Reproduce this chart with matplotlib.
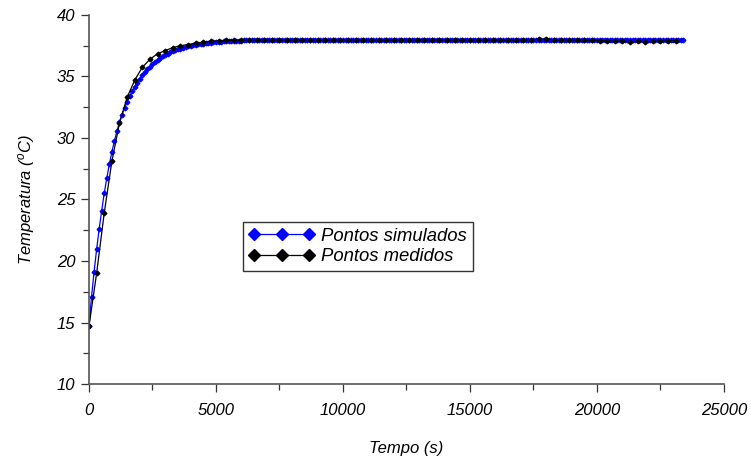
import matplotlib

matplotlib.use("Agg")
import matplotlib.pyplot as plt
import numpy as np
from matplotlib.ticker import MultipleLocator

# Simulated points, one every 100 s
sim_time = np.arange(0, 23500, 100)
sim_temp = [
    14.7, 17.1, 19.1, 20.95, 22.6, 24.1, 25.5, 26.75, 27.85, 28.85,
    29.75, 30.55, 31.3, 31.9, 32.45, 32.95, 33.4, 33.8, 34.15, 34.5,
    34.8, 35.1, 35.35, 35.6, 35.8, 36.0, 36.18, 36.35, 36.5, 36.63,
    36.75, 36.86, 36.96, 37.05, 37.13, 37.2, 37.27, 37.33, 37.39, 37.44,
    37.49, 37.53, 37.57, 37.61, 37.64, 37.67, 37.7, 37.73, 37.75, 37.77,
    37.79, 37.81, 37.83, 37.85, 37.86, 37.87, 37.88, 37.89, 37.9, 37.91,
    37.92, 37.93, 37.94, 37.95, 37.95, 37.96, 37.96, 37.97, 37.97, 37.98,
    37.98, 37.99, 37.99, 37.99, 37.99, 37.99, 38.0, 38.0, 38.0, 38.0,
    38.0, 38.0, 38.0, 38.0, 38.0, 38.0, 38.0, 38.0, 38.0, 38.0,
    38.0, 38.0, 38.0, 38.0, 38.0, 38.0, 38.0, 38.0, 38.0, 38.0,
    38.0, 38.0, 38.0, 38.0, 38.0, 38.0, 38.0, 38.0, 38.0, 38.0,
    38.0, 38.0, 38.0, 38.0, 38.0, 38.0, 38.0, 38.0, 38.0, 38.0,
    38.0, 38.0, 38.0, 38.0, 38.0, 38.0, 38.0, 38.0, 38.0, 38.0,
    38.0, 38.0, 38.0, 38.0, 38.0, 38.0, 38.0, 38.0, 38.0, 38.0,
    38.0, 38.0, 38.0, 38.0, 38.0, 38.0, 38.0, 38.0, 38.0, 38.0,
    38.0, 38.0, 38.0, 38.0, 38.0, 38.0, 38.0, 38.0, 38.0, 38.0,
    38.0, 38.0, 38.0, 38.0, 38.0, 38.0, 38.0, 38.0, 38.0, 38.0,
    38.0, 38.0, 38.0, 38.0, 38.0, 38.0, 38.0, 38.0, 38.0, 38.0,
    38.0, 38.0, 38.0, 38.0, 38.0, 38.0, 38.0, 38.0, 38.0, 38.0,
    38.0, 38.0, 38.0, 38.0, 38.0, 38.0, 38.0, 38.0, 38.0, 38.0,
    38.0, 38.0, 38.0, 38.0, 38.0, 38.0, 38.0, 38.0, 38.0, 38.0,
    38.0, 38.0, 38.0, 38.0, 38.0, 38.0, 38.0, 38.0, 38.0, 38.0,
    38.0, 38.0, 38.0, 38.0, 38.0, 38.0, 38.0, 38.0, 38.0, 38.0,
    38.0, 38.0, 38.0, 38.0, 38.0,
]

# Measured points, one every 300 s
meas_time = np.arange(0, 23200, 300)
meas_temp = [
    14.7, 19.0, 23.9, 28.1, 31.2, 33.3, 34.7, 35.75, 36.4, 36.85,
    37.1, 37.35, 37.5, 37.6, 37.7, 37.78, 37.85, 37.9, 37.93, 37.95,
    37.97, 37.98, 37.98, 37.98, 37.98, 37.98, 37.98, 37.98, 37.98, 37.98,
    37.98, 37.98, 37.98, 37.98, 37.98, 37.98, 37.98, 37.98, 37.98, 37.98,
    37.98, 37.98, 37.98, 37.98, 37.98, 37.98, 37.98, 37.98, 37.98, 37.98,
    37.98, 37.98, 37.98, 37.98, 37.96, 37.96, 37.98, 37.98, 37.98, 38.02,
    38.02, 37.98, 37.98, 37.96, 37.96, 37.96, 37.94, 37.92, 37.9, 37.88,
    37.86, 37.84, 37.85, 37.82, 37.86, 37.88, 37.9, 37.92,
]

plt.rcParams["font.family"] = ["Liberation Sans", "DejaVu Sans"]
plt.rcParams["mathtext.fontset"] = "custom"
plt.rcParams["mathtext.rm"] = "Liberation Sans:italic"
plt.rcParams["mathtext.it"] = "Liberation Sans:italic"

fig = plt.figure(figsize=(7.51, 4.61), dpi=100)
ax = fig.add_axes([0.1185, 0.167, 0.8455, 0.8005])

ax.plot(sim_time, sim_temp, color="#0000ff", lw=0.9, marker="D", ms=2.4,
        label="Pontos simulados")
ax.plot(meas_time, meas_temp, color="black", lw=0.9, marker="D", ms=2.4,
        label="Pontos medidos")

ax.set_xlim(0, 25000)
ax.set_ylim(10, 40)
ax.xaxis.set_major_locator(MultipleLocator(5000))
ax.xaxis.set_minor_locator(MultipleLocator(2500))
ax.yaxis.set_major_locator(MultipleLocator(5))
ax.yaxis.set_minor_locator(MultipleLocator(2.5))

for side in ["top", "right"]:
    ax.spines[side].set_visible(False)
for side in ["left", "bottom"]:
    ax.spines[side].set_color("#555555")
    ax.spines[side].set_linewidth(1.2)

ax.tick_params(which="major", direction="out", length=6, width=0.9, colors="#333333",
               labelsize=12, labelcolor="black")
ax.tick_params(which="minor", direction="out", length=4, width=0.9, colors="#333333")
ax.tick_params(axis="x", pad=8)
ax.tick_params(axis="y", pad=4)
for lbl in ax.get_xticklabels() + ax.get_yticklabels():
    lbl.set_fontstyle("italic")

ax.set_xlabel("Tempo (s)", fontsize=12, style="italic", labelpad=16)
ax.set_ylabel("Temperatura ($^{o}$C)", fontsize=12, style="italic", labelpad=14)

leg = ax.legend(loc="upper left", bbox_to_anchor=(0.2425, 0.439), numpoints=3,
                markerscale=2.6, handlelength=3.6, fontsize=13.3, frameon=True,
                fancybox=False, edgecolor="black", borderpad=0.3, labelspacing=0.2,
                handletextpad=0.35, borderaxespad=0)
leg.get_frame().set_linewidth(1.0)
for t in leg.get_texts():
    t.set_fontstyle("italic")

fig.savefig("out.png", dpi=100)
